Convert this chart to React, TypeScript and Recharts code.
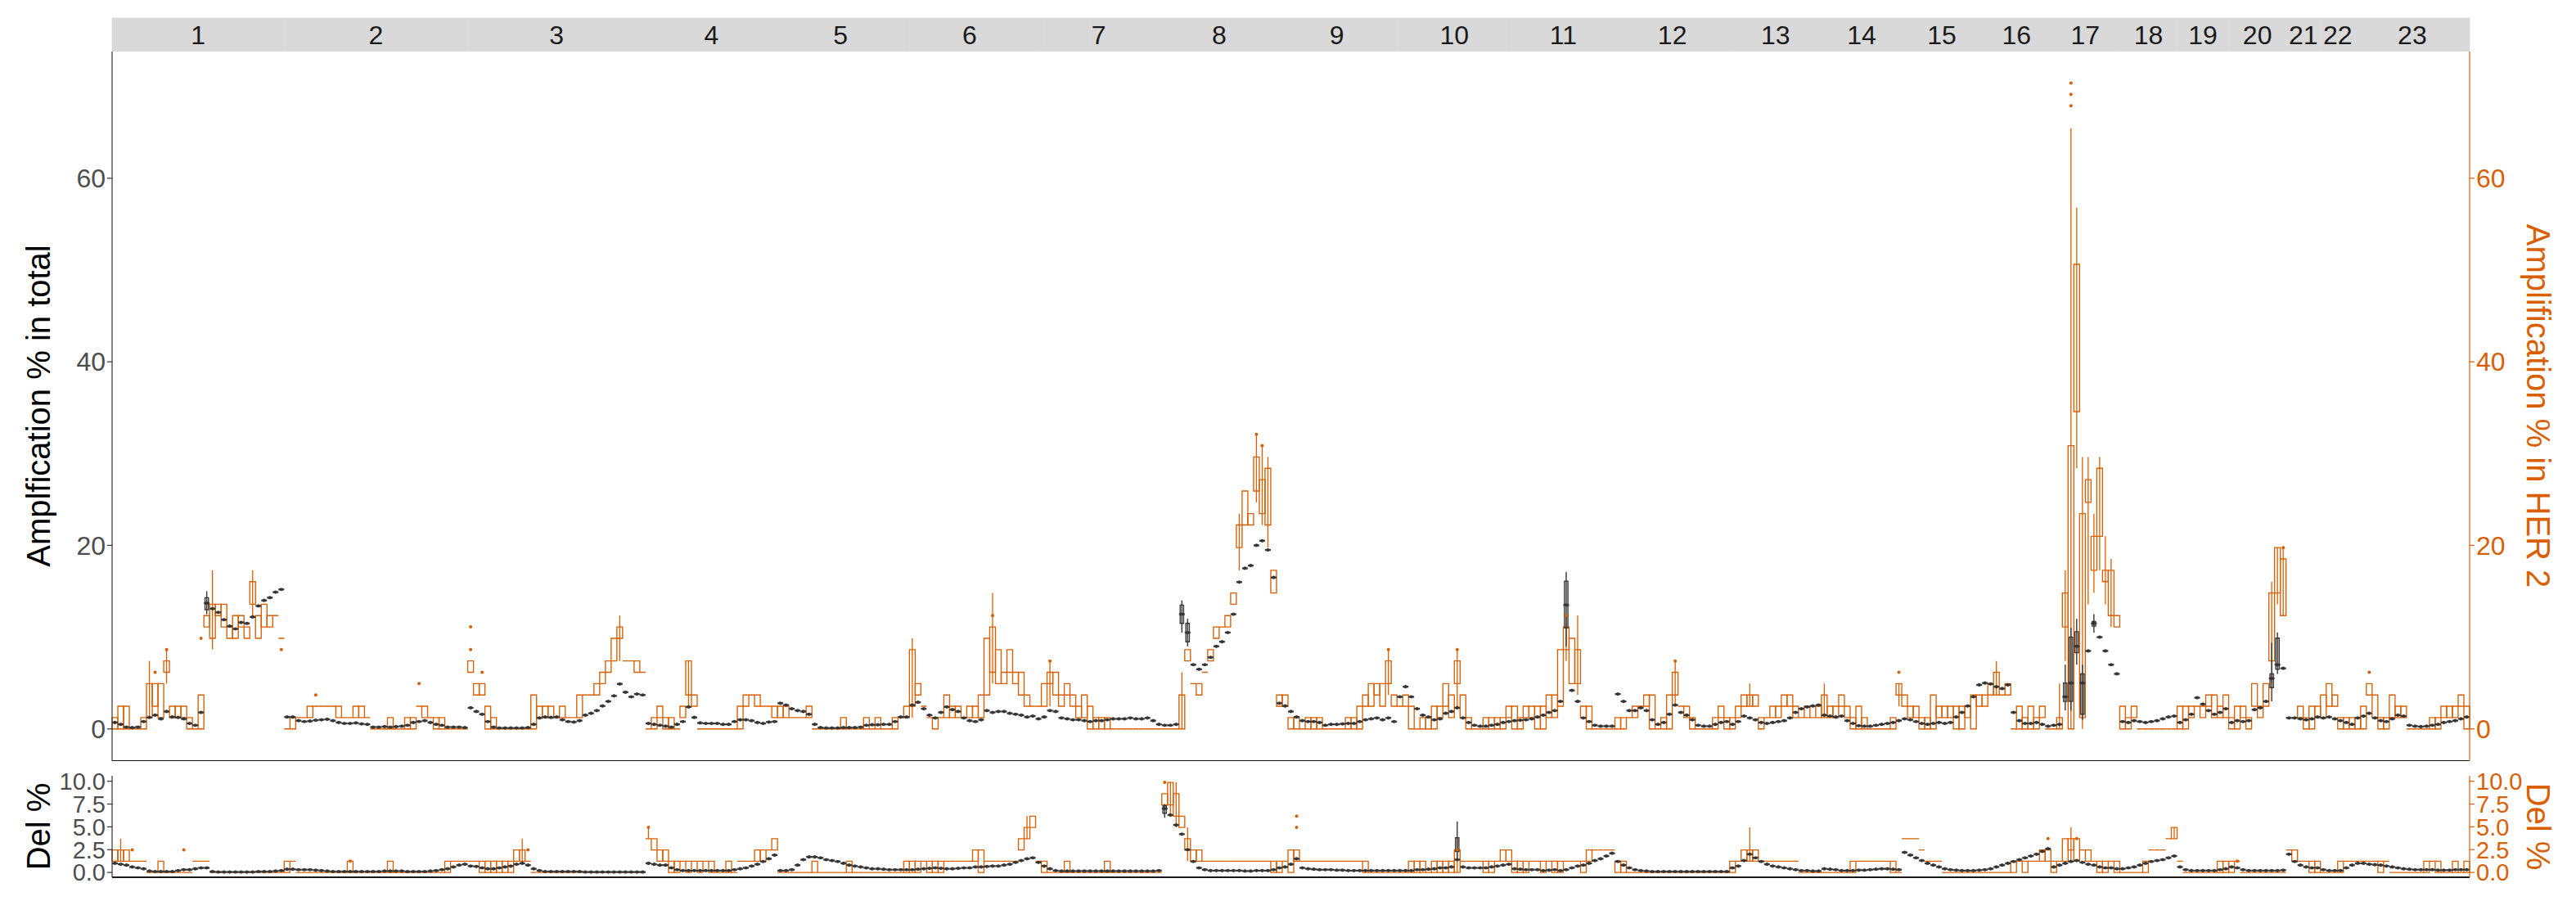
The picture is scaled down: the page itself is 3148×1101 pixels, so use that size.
import React from "react";
import { Bar, ComposedChart, Line, ReferenceArea, ReferenceLine, XAxis, YAxis } from "recharts";

const FONT = "'Liberation Sans', Arial, Helvetica, sans-serif";
const ORANGE = "#D95F02";
const GREY = "#363636";
const AXIS = "#333333";
const TICK = "#4D4D4D";
const STRIP = "#D9D9D9";

// HER2 group size: its percentages come in steps of 1/81
const HER2_SAMPLES = 81;

const CHROMS = ["1", "2", "3", "4", "5", "6", "7", "8", "9", "10", "11", "12", "13", "14", "15", "16", "17", "18", "19", "20", "21", "22", "23"];

// HER2 amplification, per bin: number of samples (box low/high, or a single level)
const HER2_AMP: (number | number[])[][] = [
  [[0, 1], [0, 2], [0, 2], 0, 0, [0, 1], [1, 4], [2, 4], [1, 4], [5, 6], [1, 2], [1, 2], [1, 2], [0, 1], 0, [0, 3], [9, 10], [8, 11], [10, 11], [9, 11], [8, 9], [8, 10], [9, 10], [8, 9], [11, 13], [8, 10], [9, 11], [9, 10], 10, 8],
  [0, [0, 1], 1, 1, [1, 2], 2, 2, 2, 2, [1, 2], 1, 1, [1, 2], [1, 2], 1, 0, 0, 0, [0, 1], 0, 0, [0, 1], [0, 1], 2, [1, 2], 1, [0, 1], [0, 1], 0, 0, 0, 0],
  [[5, 6], [3, 4], [3, 4], [0, 2], [0, 1], 0, 0, 0, 0, 0, 0, [0, 3], [1, 2], [1, 2], [1, 2], 1, [1, 2], 1, 1, [1, 3], 3, 3, [3, 4], [4, 5], [5, 6], [6, 8], [8, 9], 6, 6, [5, 6], 5],
  [0, [0, 1], [1, 2], [0, 1], [0, 1], 0, [1, 2], [3, 6], [2, 3], 0, 0, 0, 0, 0, 0, 0, [0, 2], [2, 3], 3, [2, 3], 2, 2, [1, 2]],
  [[1, 2], [1, 2], 1, 1, 1, [1, 2], 0, 0, 0, 0, 0, [0, 1], 0, 0, 0, [0, 1], 0, [0, 1], 0, 0, [0, 1], 1],
  [[1, 2], [2, 7], [3, 4], 2, 1, [0, 1], 1, [1, 3], [1, 2], [1, 2], 1, [1, 2], [1, 2], [1, 3], [3, 8], [5, 9], [4, 7], [4, 5], [5, 7], [4, 5], [3, 5], [2, 3], 2],
  [2, [2, 4], [4, 5], [3, 5], [2, 3], [3, 4], [2, 3], [1, 2], [1, 3], [0, 2], [0, 1], [0, 1], [0, 1], 0, 0, 0, 0, 0, 0, 0, 0, 0],
  [0, 0, 0, [0, 3], [6, 7], 4, [3, 4], 5, [6, 7], [8, 9], 9, [9, 10], [11, 12], [16, 18], [18, 21], [18, 19], [21, 24], [19, 22], [18, 23], [12, 14]],
  [[2, 3], [2, 3], [0, 1], [0, 1], 0, [0, 1], [0, 1], [0, 1], 0, 0, 0, 0, [0, 1], [0, 1], [0, 2], [2, 3], [2, 4], [3, 4], [2, 4], [4, 6], [2, 3]],
  [2, [2, 3], [0, 2], 0, [0, 1], [0, 1], [0, 2], [1, 2], [2, 4], [1, 3], [4, 6], [1, 3], [0, 1], 0, 0, [0, 1], [0, 1], [0, 1], [0, 1], [1, 2]],
  [[0, 2], [0, 1], [1, 2], [1, 2], [0, 2], [0, 2], [1, 3], [1, 3], [2, 7], [7, 9], [4, 8], [4, 7], [1, 2], [0, 2], 0, 0, 0, 0],
  [[0, 1], [0, 1], 1, [1, 2], 2, [2, 3], [0, 3], 0, [0, 1], [0, 3], [3, 5], 2, [1, 2], [0, 1], 0, 0, 0, [0, 1], [1, 2], [0, 1]],
  [[0, 1], [1, 2], [2, 3], [2, 3], [2, 3], [0, 1], 1, [1, 2], [1, 2], [2, 3], [2, 3], [1, 2], 1, [1, 2], 1, [1, 2]],
  [[1, 3], [1, 2], [1, 2], [2, 3], [1, 2], [0, 1], [0, 2], [0, 1], 0, 0, 0, 0, [0, 1], [3, 4]],
  [[2, 3], [1, 2], [1, 2], [0, 1], [0, 1], [0, 3], [1, 2], [1, 2], [1, 2], [0, 2], [0, 2], [1, 2], [0, 3], [2, 3]],
  [[2, 3], [3, 4], [3, 5], 3, [3, 4], 0, [0, 2], [0, 1], [0, 2], [0, 1], [1, 2], 0],
  [0, [0, 1], [9, 12], [0, 25], [28, 41], [1, 19], [20, 22], [14, 17], [17, 23], [13, 14], [10, 14], [9, 10]],
  [[0, 2], [0, 1], [1, 2], 0, 0, 0, 0, 0, 0, 0],
  [[0, 2], [0, 2], [1, 2], 2, [1, 2], [2, 3], [1, 3], [1, 2], [1, 3]],
  [[0, 1], [0, 2], [1, 2], [0, 1], [2, 4], [1, 2], [2, 4], [6, 12], [12, 16], [10, 15]],
  [1, 1, [1, 2], [0, 1], [0, 2], [1, 2]],
  [[1, 3], [2, 4], [2, 3], [0, 1], [0, 1], [0, 1]],
  [[0, 1], [0, 2], [3, 4], [1, 3], [0, 1], [0, 1], [1, 3], [1, 2], [1, 2], 0, 0, 0, 0, [0, 1], [0, 1], [1, 2], [1, 2], [1, 2], [2, 3], [0, 2]],
];

// amplification % in the whole cohort, per bin
const TOTAL_AMP: number[][] = [
  [0.7, 0.5, 0.2, 0.15, 0.2, 0.8, 1.25, 1.5, 1.1, 1.9, 1.3, 1.25, 1.1, 0.6, 0.4, 1.8, 13.7, 13.1, 12.7, 11.9, 11.2, 10.9, 11.6, 11.5, 12.2, 13.4, 14.0, 14.3, 14.9, 15.2],
  [1.3, 1.3, 0.9, 0.8, 0.85, 0.95, 1.0, 1.05, 0.9, 0.7, 0.6, 0.6, 0.65, 0.55, 0.5, 0.2, 0.2, 0.25, 0.2, 0.25, 0.3, 0.4, 0.7, 0.8, 0.9, 0.7, 0.5, 0.4, 0.2, 0.2, 0.2, 0.15],
  [2.3, 1.9, 1.6, 0.8, 0.2, 0.1, 0.1, 0.1, 0.1, 0.1, 0.15, 0.5, 1.2, 1.3, 1.25, 1.3, 1.0, 0.8, 0.75, 0.9, 1.5, 1.7, 2.0, 2.5, 3.0, 3.6, 4.9, 4.0, 3.5, 3.8, 3.7],
  [0.6, 0.5, 0.4, 0.3, 0.2, 0.5, 0.8, 2.4, 1.25, 0.65, 0.6, 0.6, 0.6, 0.5, 0.5, 0.8, 1.0, 1.0, 0.9, 0.7, 0.6, 0.75, 0.8],
  [2.8, 2.6, 2.2, 2.0, 1.9, 1.6, 0.5, 0.15, 0.1, 0.1, 0.1, 0.15, 0.15, 0.15, 0.2, 0.4, 0.45, 0.45, 0.5, 0.5, 0.8, 1.3],
  [1.3, 2.6, 2.9, 2.2, 1.5, 1.2, 1.8, 2.4, 2.1, 1.9, 1.2, 0.9, 0.8, 1.0, 2.0, 1.8, 1.9, 1.9, 1.7, 1.6, 1.5, 1.3, 1.4],
  [1.1, 1.3, 2.0, 1.9, 1.2, 1.1, 1.0, 1.0, 0.9, 0.8, 0.9, 0.9, 1.0, 1.1, 1.1, 1.1, 1.2, 1.1, 1.1, 1.2, 0.9, 0.5],
  [0.4, 0.4, 0.5, 12.5, 10.5, 7.0, 6.5, 7.0, 7.8, 9.0, 9.5, 10.5, 12.5, 16.0, 17.5, 17.8, 20.0, 20.5, 19.5, 16.5],
  [2.8, 2.5, 1.9, 1.3, 0.9, 0.8, 0.8, 0.7, 0.4, 0.5, 0.5, 0.55, 0.6, 0.6, 0.8, 1.0, 1.1, 1.2, 1.0, 1.2, 0.8],
  [3.5, 4.6, 3.5, 2.2, 1.5, 1.3, 1.0, 1.1, 1.7, 1.9, 2.3, 1.2, 0.7, 0.4, 0.3, 0.3, 0.4, 0.5, 0.7, 0.8],
  [0.9, 0.95, 1.0, 1.1, 1.3, 1.5, 1.8, 2.0, 3.0, 13.5, 4.2, 3.0, 1.2, 0.8, 0.4, 0.3, 0.3, 0.3],
  [3.8, 3.0, 2.0, 2.0, 2.3, 2.0, 1.0, 0.5, 0.7, 1.6, 2.6, 1.8, 1.5, 1.0, 0.4, 0.3, 0.3, 0.5, 0.7, 0.8],
  [0.5, 0.8, 1.4, 1.2, 1.0, 0.7, 0.6, 0.7, 0.8, 0.9, 1.2, 1.8, 2.2, 2.4, 2.5, 2.6],
  [1.5, 1.4, 1.3, 1.4, 0.9, 0.6, 0.35, 0.3, 0.3, 0.4, 0.5, 0.6, 0.7, 0.9],
  [1.1, 1.0, 0.8, 0.6, 0.5, 0.6, 0.7, 0.6, 0.7, 1.3, 1.8, 2.5, 3.5, 4.8],
  [5.0, 4.9, 4.6, 4.4, 4.8, 1.8, 0.9, 0.6, 0.6, 0.7, 0.5, 0.3],
  [0.4, 0.5, 3.5, 5.0, 9.0, 5.0, 8.5, 11.5, 10.0, 8.5, 7.0, 6.0],
  [0.8, 0.7, 0.9, 0.8, 0.7, 0.8, 0.9, 1.1, 1.3, 1.4],
  [0.7, 1.0, 1.6, 3.4, 2.7, 2.0, 1.6, 1.8, 2.2],
  [0.7, 0.9, 0.8, 0.9, 2.1, 2.3, 3.0, 5.5, 7.0, 6.6],
  [1.2, 1.2, 1.1, 1.0, 1.1, 1.3],
  [1.2, 1.3, 1.1, 0.9, 0.7, 0.5],
  [1.2, 1.4, 1.7, 1.2, 0.9, 0.8, 1.1, 1.5, 1.4, 0.4, 0.3, 0.25, 0.3, 0.4, 0.5, 0.7, 0.8, 0.9, 1.1, 1.3],
];

// HER2 deletion, per bin: number of samples
const HER2_DEL: (number | number[])[][] = [
  [[1, 2], [1, 2], [1, 2], 1, 1, 1, 0, 0, [0, 1], 0, 0, 0, 0, 0, 1, 1, 1, 0, 0, 0, 0, 0, 0, 0, 0, 0, 0, 0, 0, 0],
  [[0, 1], 1, 0, 0, 0, 0, 0, 0, 0, 0, 0, [0, 1], 0, 0, 0, 0, 0, 0, [0, 1], 0, 0, 0, 0, 0, 0, 0, 0, 0, [0, 1], 1, 1, 1],
  [1, 1, [0, 1], [0, 1], [0, 1], [0, 1], [0, 1], [0, 1], [1, 2], [1, 2], 1, 0, 0, 0, 0, 0, 0, 0, 0, 0, 0, 0, 0, 0, 0, 0, 0, 0, 0, 0, 0],
  [3, [2, 3], [1, 2], [1, 2], [0, 1], [0, 1], 1, [0, 1], 1, [0, 1], 1, [0, 1], 0, 0, [0, 1], 0, 1, 1, 1, [1, 2], [1, 2], 2, [2, 3]],
  [0, 0, 0, 0, 0, 0, [0, 1], 0, 0, 0, 0, 0, [0, 1], 0, 0, 0, 0, 0, 0, 0, 0, 0],
  [[0, 1], [0, 1], [0, 1], 1, [0, 1], [0, 1], [0, 1], 1, 1, 1, 1, 1, [1, 2], [0, 2], 1, 1, 1, 1, 1, 1, [2, 3], [3, 4], [4, 5]],
  [1, [0, 1], 0, 0, 0, [0, 1], 0, 0, 0, 0, 0, 0, [0, 1], 0, 0, 0, 0, 0, 0, 0, 0, 0],
  [[6, 7], [6, 8], [5, 7], [4, 5], [2, 3], [1, 2], [1, 2], 1, 1, 1, 1, 1, 1, 1, 1, 1, 1, 1, 1, [0, 1]],
  [[0, 1], 1, [0, 2], [1, 2], 1, 1, 1, 1, 1, 1, 1, 1, 1, 1, 1, [0, 1], 0, 0, 0, 0, 0],
  [0, 0, [0, 1], [0, 1], [0, 1], 0, [0, 1], [0, 1], [0, 1], [0, 1], [0, 2], 1, 1, 1, 1, [0, 1], [0, 1], 1, [1, 2], [1, 2]],
  [[0, 1], [0, 1], [0, 1], 1, 1, [0, 1], 1, [0, 1], [0, 1], 1, 1, 1, [0, 1], [1, 2], 2, 2, 2, 2],
  [[0, 1], [0, 1], 0, 0, 0, 0, 0, 0, 0, 0, 0, 0, 0, 0, 0, 0, 0, 0, 0, 0],
  [[0, 1], 1, [1, 2], [1, 2], [1, 2], 1, 1, 1, 1, 1, 1, 1, 0, 0, 0, 0],
  [0, 0, 0, 0, 0, [0, 1], 1, 1, 1, 1, 1, 1, [0, 1], 0],
  [3, 3, 3, 2, 1, 1, 1, 0, 0, 0, 0, 0, 0, 0],
  [0, 0, 0, 0, 0, [0, 1], 1, [0, 1], 1, 1, [1, 2], [1, 2]],
  [[0, 1], 1, [1, 3], [2, 3], [1, 3], 2, [1, 2], 1, [0, 1], [0, 1], 1, [0, 1]],
  [0, 0, 0, 0, [0, 1], 2, 2, 2, 3, [3, 4]],
  [1, 0, 0, 0, 0, 0, 0, [0, 1], [0, 1]],
  [[0, 1], 1, 0, 0, 0, 0, 0, 0, 0, 0],
  [2, [1, 2], 1, 1, [0, 1], [0, 1]],
  [0, 0, 0, [0, 1], 1, 1],
  [1, 1, 1, 1, [0, 1], 1, 0, 0, 0, 0, 0, 0, [0, 1], 1, [0, 1], 0, 0, [0, 1], 0, [0, 1]],
];

// deletion % in the whole cohort, per bin
const TOTAL_DEL: number[][] = [
  [1.0, 0.9, 0.8, 0.6, 0.5, 0.4, 0.15, 0.1, 0.1, 0.1, 0.1, 0.2, 0.3, 0.3, 0.4, 0.5, 0.5, 0.1, 0.05, 0.05, 0.05, 0.05, 0.05, 0.05, 0.05, 0.1, 0.1, 0.1, 0.15, 0.2],
  [0.35, 0.35, 0.3, 0.3, 0.3, 0.25, 0.2, 0.15, 0.1, 0.1, 0.1, 0.1, 0.1, 0.1, 0.1, 0.1, 0.1, 0.15, 0.15, 0.15, 0.15, 0.1, 0.1, 0.1, 0.1, 0.15, 0.2, 0.3, 0.4, 0.6, 0.8, 0.9],
  [0.7, 0.65, 0.5, 0.4, 0.4, 0.5, 0.6, 0.7, 0.9, 1.0, 0.8, 0.4, 0.2, 0.1, 0.1, 0.1, 0.1, 0.1, 0.1, 0.1, 0.05, 0.05, 0.05, 0.05, 0.05, 0.05, 0.05, 0.05, 0.05, 0.05, 0.05],
  [1.0, 0.9, 0.8, 0.8, 0.5, 0.3, 0.2, 0.2, 0.2, 0.2, 0.2, 0.2, 0.2, 0.2, 0.2, 0.3, 0.4, 0.5, 0.7, 0.9, 1.2, 1.5, 1.9],
  [0.2, 0.2, 0.3, 0.8, 1.4, 1.7, 1.7, 1.6, 1.4, 1.3, 1.2, 1.0, 0.8, 0.7, 0.6, 0.5, 0.4, 0.4, 0.35, 0.3, 0.3, 0.3],
  [0.3, 0.3, 0.35, 0.4, 0.45, 0.5, 0.45, 0.4, 0.4, 0.45, 0.5, 0.5, 0.6, 0.6, 0.65, 0.7, 0.7, 0.8, 0.9, 1.1, 1.3, 1.5, 1.6],
  [1.1, 0.7, 0.4, 0.2, 0.15, 0.15, 0.15, 0.15, 0.15, 0.15, 0.15, 0.15, 0.15, 0.15, 0.15, 0.15, 0.15, 0.15, 0.15, 0.15, 0.15, 0.2],
  [7.0, 6.3, 5.2, 4.2, 2.5, 1.2, 0.5, 0.3, 0.2, 0.2, 0.2, 0.2, 0.2, 0.2, 0.15, 0.15, 0.2, 0.2, 0.2, 0.3],
  [0.5, 0.6, 0.9, 1.5, 0.5, 0.4, 0.35, 0.3, 0.3, 0.3, 0.25, 0.25, 0.2, 0.2, 0.2, 0.2, 0.2, 0.2, 0.2, 0.2, 0.2],
  [0.2, 0.2, 0.2, 0.3, 0.3, 0.35, 0.4, 0.5, 0.5, 0.6, 1.4, 0.6, 0.5, 0.5, 0.5, 0.5, 0.6, 0.7, 0.8, 0.9],
  [0.4, 0.35, 0.3, 0.3, 0.3, 0.2, 0.25, 0.3, 0.2, 0.3, 0.5, 0.7, 0.8, 1.0, 1.3, 1.5, 1.8, 2.1],
  [1.2, 0.8, 0.5, 0.3, 0.2, 0.15, 0.1, 0.1, 0.1, 0.1, 0.1, 0.1, 0.1, 0.1, 0.1, 0.1, 0.1, 0.1, 0.1, 0.1],
  [0.5, 0.7, 1.3, 2.0, 1.6, 1.2, 0.9, 0.7, 0.6, 0.5, 0.4, 0.3, 0.2, 0.2, 0.15, 0.15],
  [0.4, 0.35, 0.3, 0.2, 0.2, 0.2, 0.25, 0.25, 0.3, 0.35, 0.4, 0.4, 0.35, 0.3],
  [2.2, 1.9, 1.6, 1.3, 1.0, 0.8, 0.6, 0.4, 0.3, 0.25, 0.2, 0.2, 0.2, 0.25],
  [0.3, 0.4, 0.6, 0.8, 1.0, 1.2, 1.4, 1.6, 1.8, 2.0, 2.3, 2.6],
  [0.6, 0.8, 1.0, 1.2, 1.3, 1.1, 0.9, 0.8, 0.6, 0.5, 0.5, 0.4],
  [0.4, 0.5, 0.6, 0.8, 1.0, 1.2, 1.3, 1.4, 1.6, 1.8],
  [0.6, 0.3, 0.2, 0.2, 0.2, 0.2, 0.2, 0.3, 0.4],
  [0.6, 0.5, 0.3, 0.2, 0.2, 0.2, 0.2, 0.2, 0.2, 0.25],
  [2.0, 1.2, 0.8, 0.6, 0.5, 0.5],
  [0.3, 0.2, 0.2, 0.2, 0.5, 0.8],
  [1.0, 1.0, 0.9, 0.85, 0.8, 0.7, 0.6, 0.5, 0.4, 0.35, 0.3, 0.3, 0.3, 0.3, 0.25, 0.25, 0.25, 0.3, 0.3, 0.3],
];

// [chromosome, bin, low count, high count]
const AMP_WHISKERS = [
  [1, 6, 1, 6], [1, 9, 4, 7], [1, 17, 7, 14], [1, 24, 10, 14], [3, 26, 6, 10], [4, 7, 2, 6],
  [6, 1, 1, 8], [6, 15, 4, 12], [7, 2, 2, 6], [8, 3, 0, 5], [8, 13, 14, 19], [8, 16, 20, 26],
  [8, 17, 18, 25], [8, 18, 16, 24], [9, 19, 3, 7], [10, 10, 2, 7], [11, 9, 6, 10], [11, 11, 3, 10],
  [12, 10, 2, 6], [13, 3, 2, 4], [14, 0, 1, 4], [14, 13, 2, 4], [16, 2, 3, 6], [17, 1, 0, 4],
  [17, 2, 6, 14], [17, 3, 0, 53], [17, 4, 23, 46], [17, 5, 0, 24], [17, 6, 11, 24], [17, 7, 12, 19],
  [17, 8, 14, 24], [17, 9, 11, 17], [17, 10, 9, 15], [20, 7, 4, 13], [20, 8, 11, 16], [20, 9, 10, 16],
];
const DEL_WHISKERS = [
  [1, 1, 1, 3], [3, 9, 1, 3], [4, 0, 3, 4], [6, 21, 3, 5], [8, 1, 5, 8], [8, 2, 4, 8],
  [8, 4, 1, 4], [10, 10, 0, 3], [13, 3, 1, 4], [17, 3, 1, 4], [18, 9, 3, 4],
];

// [chromosome, bin, count]
const AMP_OUTLIERS = [
  [1, 7, 5], [1, 9, 7], [1, 15, 8], [1, 29, 7], [2, 5, 3], [2, 23, 4], [3, 0, 7], [3, 0, 9],
  [3, 2, 5], [6, 15, 10], [7, 2, 6], [8, 16, 26], [8, 17, 25], [9, 19, 7], [10, 10, 7],
  [11, 9, 10], [12, 10, 6], [14, 13, 5], [17, 3, 57], [17, 3, 56], [17, 3, 55], [20, 9, 16], [23, 2, 5],
];
const DEL_OUTLIERS = [
  [1, 3, 2], [1, 12, 2], [2, 11, 1], [3, 10, 2], [4, 0, 4], [8, 0, 8], [9, 3, 4], [9, 3, 5],
  [10, 10, 2], [16, 11, 3], [17, 4, 3], [20, 1, 1],
];

// whole-cohort boxes that stand out: [panel, chromosome, bin, q1, q3, whisker low, whisker high]
const TOTAL_BOXES: [string, number, number, number, number, number, number][] = [
  ["amp", 1, 16, 13.0, 14.3, 12.5, 15.0],
  ["amp", 8, 3, 11.5, 13.5, 10.5, 14.0],
  ["amp", 8, 4, 9.5, 11.5, 9.0, 12.0],
  ["amp", 11, 9, 11.0, 16.1, 9.0, 17.1],
  ["amp", 17, 2, 3.0, 5.0, 2.0, 7.0],
  ["amp", 17, 3, 3.0, 10.0, 2.0, 11.0],
  ["amp", 17, 4, 8.3, 10.6, 7.0, 12.0],
  ["amp", 17, 5, 1.6, 6.0, 1.0, 7.0],
  ["amp", 17, 7, 11.2, 11.7, 10.5, 12.5],
  ["amp", 20, 7, 4.5, 6.0, 3.0, 9.4],
  ["amp", 20, 8, 6.5, 9.9, 6.0, 10.5],
  ["del", 8, 0, 6.5, 7.3, 6.0, 7.5],
  ["del", 10, 10, 2.3, 3.8, 1.5, 5.6],
];

const pct = (n: number) => (n * 100) / HER2_SAMPLES;
const span = (v: number | number[]) => (Array.isArray(v) ? v : [v, v]).map(pct);

const rows: any[] = [];
const byKey: Record<string, any> = {};
CHROMS.forEach((chrom, c) => {
  HER2_AMP[c].forEach((v, b) => {
    const row = {
      key: `${chrom}:${b}`,
      strip: 1,
      amp: span(v),
      ampTot: TOTAL_AMP[c][b],
      del: span(HER2_DEL[c][b]),
      delTot: TOTAL_DEL[c][b],
    };
    rows.push(row);
    byKey[row.key] = row;
  });
});
AMP_WHISKERS.forEach(([c, b, lo, hi]) => (byKey[`${c}:${b}`].ampW = [pct(lo), pct(hi)]));
DEL_WHISKERS.forEach(([c, b, lo, hi]) => (byKey[`${c}:${b}`].delW = [pct(lo), pct(hi)]));
const addOutlier = (field: string) => ([c, b, n]: number[]) => {
  const row = byKey[`${c}:${b}`];
  let k = 0;
  while (row[`${field}${k}`] != null) k++;
  row[`${field}${k}`] = pct(n);
};
AMP_OUTLIERS.forEach(addOutlier("ampO"));
DEL_OUTLIERS.forEach(addOutlier("delO"));
TOTAL_BOXES.forEach(([panel, c, b, q1, q3, wl, wh]) => {
  const row = byKey[`${c}:${b}`];
  row[`${panel}Box`] = [q1, q3];
  row[`${panel}BoxW`] = [wl, wh];
});

const strips = CHROMS.map((chrom, c) => ({ chrom, first: `${chrom}:0`, last: `${chrom}:${HER2_AMP[c].length - 1}` }));

const finite = (...v: number[]) => v.every((n) => Number.isFinite(n));

const boxShape = (color: string, sw: number, inset = 0) => (p: any) => {
  const { x, y, width, height } = p;
  if (!finite(x, y, width, height)) return <g />;
  const top = Math.min(y, y + height);
  const bottom = Math.max(y, y + height);
  const x0 = x + width * inset;
  const x1 = x + width * (1 - inset);
  return <path d={`M${x0},${bottom}V${top}H${x1}V${bottom}Z`} fill="none" stroke={color} strokeWidth={sw} />;
};

const whiskerShape = (color: string, sw: number) => (p: any) => {
  const { x, y, width, height } = p;
  if (!finite(x, y, width, height)) return <g />;
  const cx = x + width / 2;
  return <line x1={cx} x2={cx} y1={y} y2={y + height} stroke={color} strokeWidth={sw} />;
};

const levelShape = (p: any) => {
  const { x, y, width } = p;
  if (!finite(x, y, width)) return <g />;
  return (
    <g>
      <line x1={x} x2={x + width} y1={y} y2={y} stroke={GREY} strokeWidth={2.3} />
      <circle cx={x + width / 2} cy={y} r={2.1} fill={GREY} />
    </g>
  );
};

const dotOnly = { r: 2, fill: ORANGE, stroke: "none" };
const xIds = ["hbox", "hwh", "tot", "tbox", "twh"];

function Panel({ prefix, height, margin, domain, ticks, fmt, tickFont }: any) {
  const tickStyle = { fontSize: tickFont, fontFamily: FONT };
  return (
    <ComposedChart width={3148} height={height} data={rows} margin={margin} barCategoryGap={0} barGap={0}>
      {xIds.map((id) => (
        <XAxis key={id} xAxisId={id} dataKey="key" type="category" scale="band" hide />
      ))}
      <YAxis
        yAxisId="l"
        type="number"
        domain={domain}
        ticks={ticks}
        interval={0}
        allowDataOverflow
        width={60}
        tickSize={6}
        tickMargin={2}
        tickFormatter={fmt}
        tick={{ ...tickStyle, fill: TICK }}
        axisLine={{ stroke: AXIS, strokeWidth: 1.2 }}
        tickLine={{ stroke: AXIS, strokeWidth: 1.2 }}
      />
      <YAxis
        yAxisId="r"
        orientation="right"
        type="number"
        domain={domain}
        ticks={ticks}
        interval={0}
        allowDataOverflow
        width={60}
        tickSize={6}
        tickMargin={2}
        tickFormatter={fmt}
        tick={{ ...tickStyle, fill: ORANGE }}
        axisLine={{ stroke: ORANGE, strokeWidth: 1.2 }}
        tickLine={{ stroke: ORANGE, strokeWidth: 1.2 }}
      />
      <Bar xAxisId="hwh" yAxisId="r" dataKey={`${prefix}W`} shape={whiskerShape(ORANGE, 1.3)} isAnimationActive={false} />
      <Bar xAxisId="hbox" yAxisId="r" dataKey={prefix} shape={boxShape(ORANGE, 1.35)} isAnimationActive={false} />
      {[0, 1, 2].map((k) => (
        <Line
          key={k}
          xAxisId="hbox"
          yAxisId="r"
          dataKey={`${prefix}O${k}`}
          stroke="none"
          dot={dotOnly}
          activeDot={false}
          isAnimationActive={false}
        />
      ))}
      <Bar xAxisId="twh" yAxisId="l" dataKey={`${prefix}BoxW`} shape={whiskerShape(GREY, 1.4)} isAnimationActive={false} />
      <Bar xAxisId="tot" yAxisId="l" dataKey={`${prefix}Tot`} shape={levelShape} isAnimationActive={false} />
      <Bar xAxisId="tbox" yAxisId="l" dataKey={`${prefix}Box`} shape={boxShape(GREY, 1.4, 0.2)} isAnimationActive={false} />
      <ReferenceLine xAxisId="tot" yAxisId="l" y={domain[0]} stroke="#1A1A1A" strokeWidth={1.8} />
    </ComposedChart>
  );
}

function Title({ text, x, y, color, angle }: any) {
  return (
    <div
      style={{
        position: "absolute",
        left: x,
        top: y,
        transform: `translate(-50%, -50%) rotate(${angle}deg)`,
        whiteSpace: "nowrap",
        fontSize: 40,
        lineHeight: "46px",
        color,
        fontFamily: FONT,
      }}
    >
      {text}
    </div>
  );
}

export default function App() {
  return (
    <div style={{ position: "absolute", left: 0, top: 0, width: 3148, height: 1101, background: "#fff", fontFamily: FONT }}>
      <div style={{ position: "absolute", left: 0, top: 0 }}>
        <Panel
          prefix="amp"
          height={930}
          margin={{ top: 63, right: 70, bottom: 0, left: 77 }}
          domain={[-3.5, 73.8]}
          ticks={[0, 20, 40, 60]}
          tickFont={32}
        />
      </div>
      <div style={{ position: "absolute", left: 0, top: 930 }}>
        <Panel
          prefix="del"
          height={171}
          margin={{ top: 18, right: 70, bottom: 29, left: 77 }}
          domain={[-0.53, 10.6]}
          ticks={[0, 2.5, 5, 7.5, 10]}
          fmt={(v: number) => v.toFixed(1)}
          tickFont={29}
        />
      </div>
      <div style={{ position: "absolute", left: 0, top: 0 }}>
        <ComposedChart
          width={3148}
          height={63}
          data={rows}
          margin={{ top: 22, right: 130, bottom: 0, left: 137 }}
          barCategoryGap={0}
          barGap={0}
        >
          <XAxis dataKey="key" type="category" scale="band" hide />
          <YAxis type="number" domain={[0, 1]} hide />
          <Bar dataKey="strip" fill={STRIP} isAnimationActive={false} />
          {strips.map((s) => (
            <ReferenceArea
              key={s.chrom}
              x1={s.first}
              x2={s.last}
              y1={0}
              y2={1}
              fill={STRIP}
              fillOpacity={1}
              stroke="#E4E4E4"
              strokeWidth={1}
              ifOverflow="visible"
              label={{ value: s.chrom, position: "center", fontSize: 32, fill: "#1A1A1A", fontFamily: FONT }}
            />
          ))}
        </ComposedChart>
      </div>
      <Title text="Amplfication % in total" x={47} y={496} color="#000" angle={-90} />
      <Title text="Amplification % in HER 2" x={3102} y={496} color={ORANGE} angle={90} />
      <Title text="Del %" x={47} y={1010} color="#000" angle={-90} />
      <Title text="Del %" x={3102} y={1010} color={ORANGE} angle={90} />
    </div>
  );
}
